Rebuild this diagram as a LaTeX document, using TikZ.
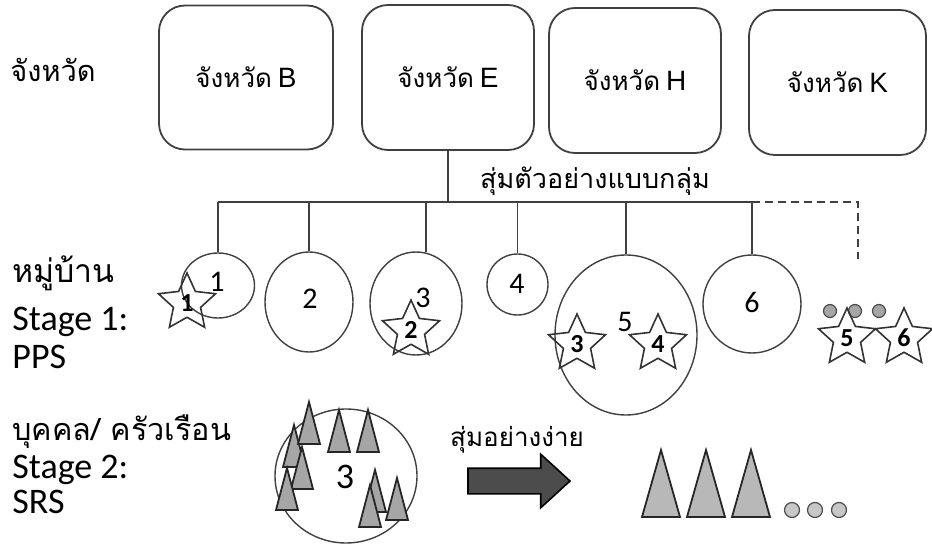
\documentclass[tikz,border=0pt]{standalone}
\usepackage{fontspec}
\setmainfont{Carlito}
\newfontfamily\thaifont[Script=Thai]{Loma}
\newfontfamily\arialfont{Liberation Sans}
\usetikzlibrary{shapes.geometric,shapes.arrows}
\newcommand{\prov}[1]{{\thaifont จังหวัด} {\arialfont\fontsize{14}{16}\selectfont #1}}

\begin{document}
\begin{tikzpicture}[x=0.5pt, y=-0.5pt,
    box/.style={draw=black!75, line width=0.9pt, rounded corners=13pt, minimum width=87pt, minimum height=72pt, font=\fontsize{13}{15}\selectfont},
    village/.style={ellipse, draw=black!75, line width=0.7pt, inner sep=0pt},
    num/.style={inner sep=0pt, font=\fontsize{15}{18}\selectfont},
    pick/.style={star, star points=5, star point ratio=2.1, draw=black!80, line width=0.8pt, minimum size=30pt, inner sep=0pt, font=\bfseries\fontsize{13}{15}\selectfont},
    lbl/.style={anchor=base west, inner sep=0pt, font=\fontsize{18}{22}\selectfont},
    tlbl/.style={anchor=base west, inner sep=0pt, font=\thaifont\fontsize{16}{20}\selectfont},
    dot/.style={circle, draw=black!70, fill=black!35, line width=0.6pt, inner sep=0pt, minimum size=6.5pt},
    tri/.style={draw=black!85, fill=black!35, line width=0.9pt},
    link/.style={black!75, line width=0.7pt}]

    \useasboundingbox (0,0) rectangle (932,545);

    %Provinces
    \node[tlbl, font=\thaifont\fontsize{14.5}{18}\selectfont] (prov) at (10,82) {จังหวัด};
    \node[box] (bB) at (246,77.5) {\prov{B}};
    \node[box, minimum width=86pt, minimum height=72.5pt] (bE) at (448,77.5) {\prov{E}};
    \node[box, minimum width=86pt, minimum height=72.5pt] (bH) at (635,80.5) {\prov{H}};
    \node[box, minimum width=88.5pt, minimum height=72.5pt] (bK) at (837.5,82.5) {\prov{K}};

    %Villages
    \node[tlbl] (lv1) at (12,283) {หมู่บ้าน};
    \node[lbl] (lv2) at (12,330) {Stage 1:};
    \node[lbl] (lv3) at (12,368) {PPS};

    \node[village, minimum width=36.5pt, minimum height=32.5pt] (v1) at (218,285.5) {};
    \node[village, minimum width=44pt, minimum height=50pt] (v2) at (309,302) {};
    \node[village, minimum width=46pt, minimum height=51.5pt] (v3) at (416,303.5) {};
    \node[village, minimum width=30.5pt, minimum height=30.5pt] (v4) at (517.5,284.5) {};
    \node[village, minimum width=71pt, minimum height=80pt] (v5) at (626,335) {};
    \node[village, minimum width=49pt, minimum height=49pt] (v6) at (752,304) {};

    \node[num] (n1) at (217,282) {1};
    \node[num] (n2) at (310,299) {2};
    \node[num] (n3) at (423,298) {3};
    \node[num] (n4) at (517,284) {4};
    \node[num] (n5) at (625,322) {5};
    \node[num] (n6) at (752,302) {6};

    \foreach \x in {830,855,879}
        \node[dot] (d\x) at (\x,311) {};

    %Lines
    \coordinate (hub) at (448,202);
    \coordinate (more) at (858,259);
    \draw[link] (bE.south) -- (hub);
    \draw[link] (v1.north |- hub) -- (v6.north |- hub);
    \foreach \v in {v1,v2,v4,v5,v6}
        \draw[link] (\v.north |- hub) -- (\v.north);
    \draw[link] (v3.79 |- hub) -- (v3.79);
    \draw[link, dash pattern=on 4pt off 2.5pt] (v6.north |- hub) -| (more);
    \node[font=\thaifont\fontsize{13.5}{16}\selectfont] (cluster) at (595,181) {สุ่มตัวอย่างแบบกลุ่ม};

    %Stars
    \node[pick] (s1) at (187,303) {1};
    \node[pick] (s2) at (411,330) {2};
    \node[pick] (s3) at (577,344) {3};
    \node[pick] (s4) at (658,344) {4};
    \node[pick] (s5) at (847,338) {5};
    \node[pick] (s6) at (904,338) {6};

    %Households
    \node[tlbl, font=\thaifont\fontsize{15.3}{19}\selectfont] (lh1) at (12,440) {บุคคล/ ครัวเรือน};
    \node[lbl] (lh2) at (12,478) {Stage 2:};
    \node[lbl] (lh3) at (12,513) {SRS};

    \node[village, minimum width=71pt, minimum height=67pt] (hh) at (346,476) {};
    \node[num, font=\fontsize{18}{20}\selectfont] (n3b) at (345,477) {3};
    \foreach \x/\y in {294/425, 302/447, 287/468, 309/402, 339/410, 368/410, 375/470, 397/478, 370/485}
        \filldraw[tri] (\x,\y) -- ++(-11,42) -- ++(22,0) -- cycle;

    \node[font=\thaifont\fontsize{13}{15}\selectfont] (simple) at (517,440) {สุ่มอย่างง่าย};
    \node[single arrow, draw=black, fill=black!70, line width=0.8pt, minimum height=51pt, single arrow head extend=7pt, single arrow tip angle=85, inner sep=6pt] (srs) at (512,481) {};

    \foreach \x in {661,706,751}
        \filldraw[tri, fill=black!28] (\x,450) -- ++(-19,67) -- ++(38,0) -- cycle;
    \foreach \x in {792,815,839}
        \node[dot, fill=black!22, minimum size=7.5pt] (e\x) at (\x,510) {};

\end{tikzpicture}
\end{document}
